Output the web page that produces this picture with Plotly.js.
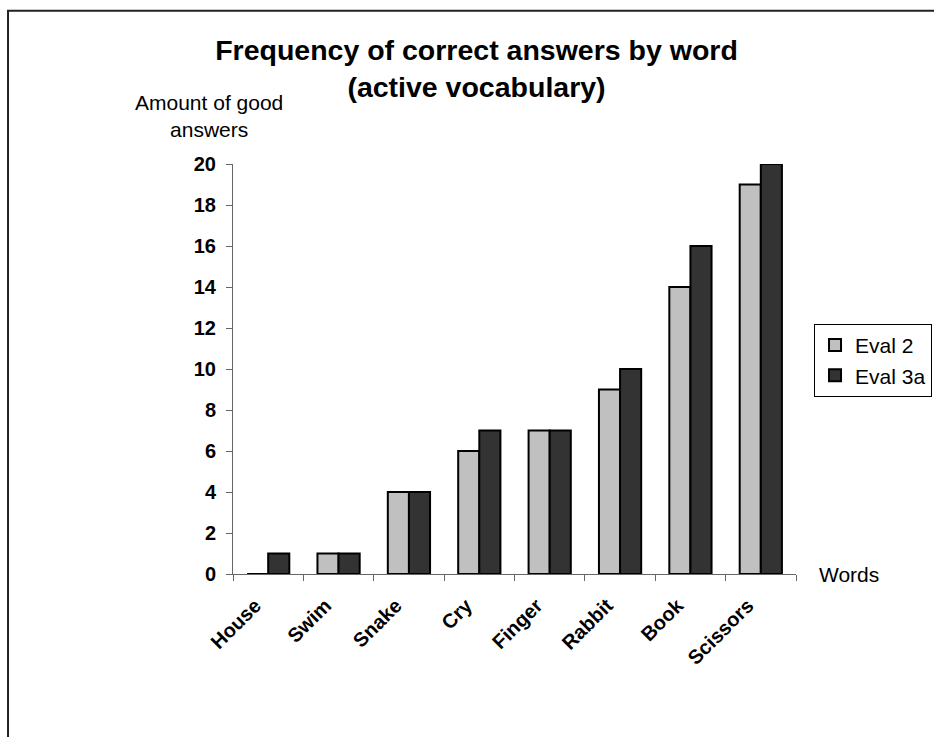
<!DOCTYPE html>
<html>
<head>
<meta charset="utf-8">
<script src="https://cdn.plot.ly/plotly-3.0.1.min.js"></script>
<style>
html, body { margin: 0; padding: 0; background: #fff; overflow: hidden; }
#chart { width: 934px; height: 737px; }
</style>
</head>
<body>
<div id="chart"></div>
<script>
const words = ["House", "Swim", "Snake", "Cry", "Finger", "Rabbit", "Book", "Scissors"];
const eval2 = [0, 1, 4, 6, 7, 9, 14, 19];
const eval3a = [1, 1, 4, 7, 7, 10, 16, 20];
const yTicks = [0, 2, 4, 6, 8, 10, 12, 14, 16, 18, 20];

const FONT = "Liberation Sans, Arial, sans-serif";

const traces = [
  {
    type: "bar", name: "Eval 2", x: words, y: eval2,
    marker: { color: "#C0C0C0", line: { color: "#000000", width: 2 } }
  },
  {
    type: "bar", name: "Eval 3a", x: words, y: eval3a,
    marker: { color: "#333333", line: { color: "#000000", width: 2 } }
  }
];

const layout = {
  width: 934, height: 737,
  margin: { l: 233, r: 138, t: 164, b: 163, autoexpand: false },
  paper_bgcolor: "#ffffff", plot_bgcolor: "#ffffff",
  font: { family: FONT, color: "#000000", size: 21 },
  barmode: "group", bargap: 0.4, bargroupgap: 0,
  title: {
    text: "<b>Frequency of correct answers by word<br>(active vocabulary)</b>",
    font: { family: FONT, size: 28.5, color: "#000000" },
    x: 0.4325, xanchor: "center", xref: "paper",
    y: 0.918, yanchor: "top", yref: "container"
  },
  xaxis: {
    type: "category",
    tickangle: -45,
    tickson: "boundaries",
    ticks: "outside", ticklen: 6, tickcolor: "#666666", tickwidth: 1,
    showline: true, linecolor: "#666666", linewidth: 1,
    showgrid: false, zeroline: false, automargin: false,
    tickfont: { family: FONT, size: 20, color: "#000000", weight: "bold" },
    ticklabelstandoff: 11, ticklabelshift: -13
  },
  yaxis: {
    range: [0, 20],
    tickvals: yTicks,
    ticktext: yTicks.map(String),
    ticks: "outside", ticklen: 6, tickcolor: "#666666", tickwidth: 1,
    showline: true, linecolor: "#666666", linewidth: 1,
    showgrid: false, zeroline: false, automargin: false,
    tickfont: { family: FONT, size: 20, color: "#000000", weight: "bold" },
    ticklabelstandoff: 6
  },
  legend: {
    x: 1.2416, xanchor: "right", xref: "paper",
    y: 0.61, yanchor: "top", yref: "paper",
    bordercolor: "#000000", borderwidth: 1, bgcolor: "#ffffff",
    font: { family: FONT, size: 21, color: "#000000" },
    tracegroupgap: 0, itemwidth: 30
  },
  annotations: [
    {
      text: "Amount of good<br>answers", xref: "paper", yref: "paper",
      x: -0.043, y: 1.116, xanchor: "center", yanchor: "middle",
      showarrow: false, font: { family: FONT, size: 21, color: "#000000" }
    },
    {
      text: "Words", xref: "paper", yref: "paper",
      x: 1.037, y: 0.0, xanchor: "left", yanchor: "middle",
      showarrow: false, font: { family: FONT, size: 21, color: "#000000" }
    }
  ],
  shapes: [
    {
      type: "rect", xref: "paper", yref: "paper",
      x0: -0.3996, x1: 1.6, y0: -0.7, y1: 1.3735,
      line: { color: "#222222", width: 2 }, fillcolor: "rgba(0,0,0,0)",
      layer: "below"
    }
  ],
  showlegend: true
};

Plotly.newPlot("chart", traces, layout, { displayModeBar: false, staticPlot: true });
</script>
</body>
</html>
